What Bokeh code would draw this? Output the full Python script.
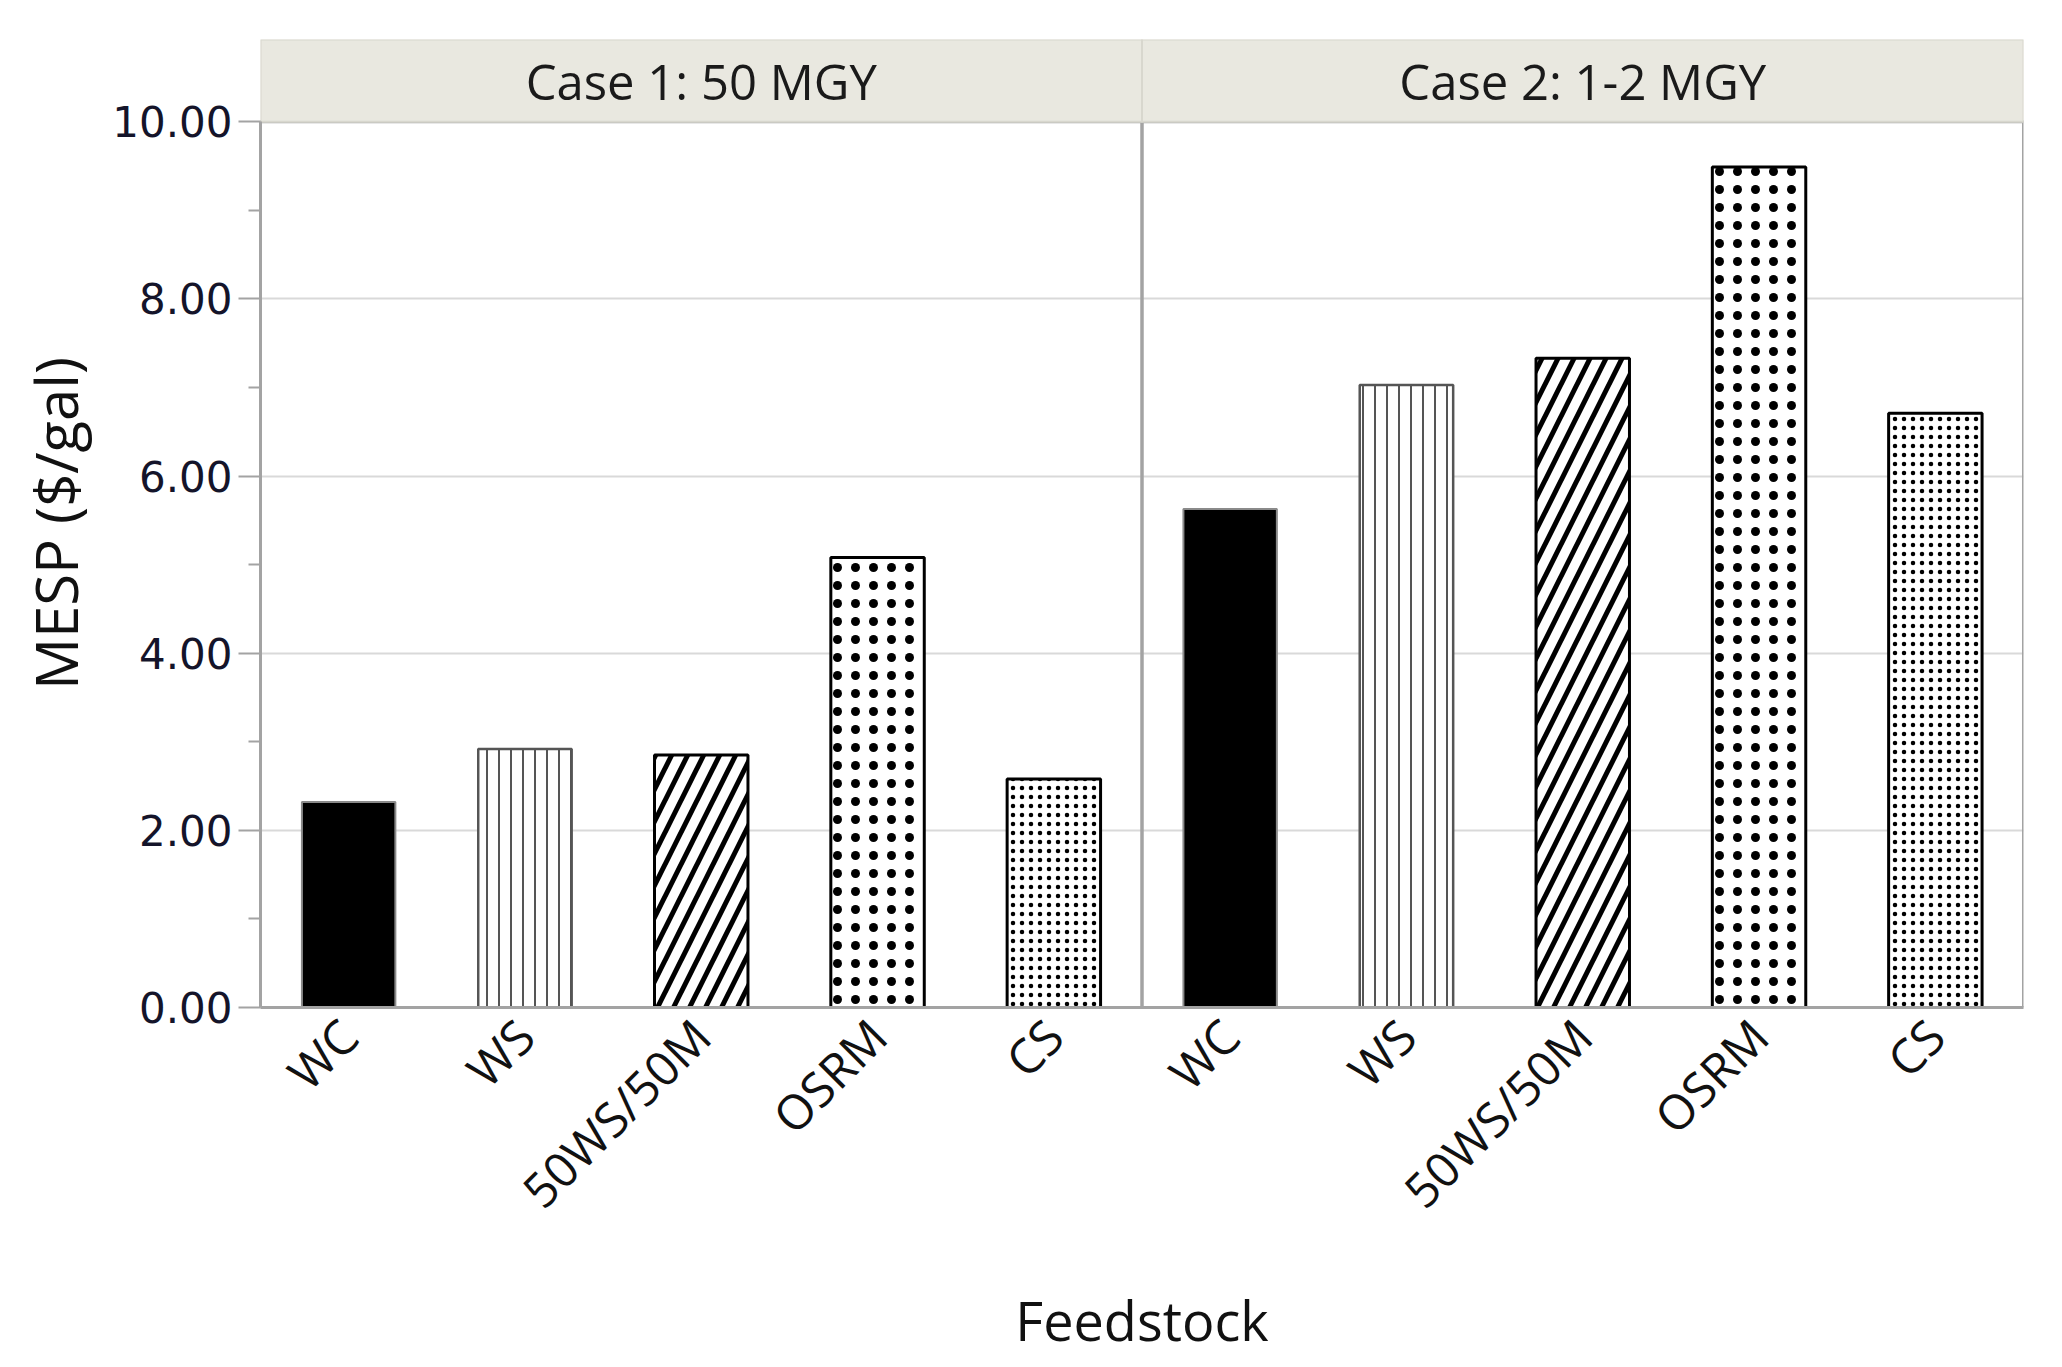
import math
from bokeh.plotting import figure
from bokeh.models import FactorRange, Range1d, FixedTicker, NumeralTickFormatter
from bokeh.core.properties import value
from bokeh.embed import file_html
from bokeh.resources import INLINE

# ---------------- data ----------------
cases = ["Case 1: 50 MGY", "Case 2: 1-2 MGY"]
feedstocks = ["WC", "WS", "50WS/50M", "OSRM", "CS"]
case1_mesp = [2.32, 2.92, 2.85, 5.08, 2.58]
case2_mesp = [5.63, 7.03, 7.33, 9.49, 6.71]
y_ticks = [0, 2, 4, 6, 8, 10]
y_label = "MESP ($/gal)"
x_label = "Feedstock"

# ---------------- styles ----------------
styles = {
    "WC": dict(fill_color="black", line_color="#8a8a8a", line_width=2),
    "WS": dict(fill_color="white", line_color="#555555", line_width=2.5,
               hatch_pattern="vertical_line", hatch_color="#555555",
               hatch_scale=12, hatch_weight=2),
    "50WS/50M": dict(fill_color="white", line_color="black", line_width=3,
                     hatch_pattern="right_diagonal_line", hatch_color="black",
                     hatch_scale=32, hatch_weight=5),
    "OSRM": dict(fill_color="white", line_color="black", line_width=3,
                 hatch_pattern="dot", hatch_color="black",
                 hatch_scale=18, hatch_weight=1),
    "CS": dict(fill_color="white", line_color="black", line_width=3,
               hatch_pattern="dot", hatch_color="black",
               hatch_scale=9, hatch_weight=1),
}

y_max = y_ticks[-1]
header_h = 0.93
header_mid = y_max + header_h / 2

factors = [(c, f) for c in cases for f in feedstocks]

p = figure(
    width=2048, height=1360,
    x_range=FactorRange(*factors, group_padding=0, factor_padding=0, range_padding=0),
    y_range=Range1d(0, y_max + header_h),
    output_backend="svg", toolbar_location=None,
    min_border_left=260, min_border_right=25, min_border_top=39, min_border_bottom=340,
)
p.outline_line_color = None
p.background_fill_color = "white"
p.border_fill_color = "white"

# bars
for i, f in enumerate(feedstocks):
    xs = [(c, f) for c in cases]
    tops = [case1_mesp[i], case2_mesp[i]]
    p.vbar(x=xs, top=tops, bottom=0, width=0.53, **styles[f])

# panel borders
p.rect(x=cases, y=[y_max / 2] * 2, width=len(feedstocks), height=y_max,
       fill_color=None, line_color="#a3a3a3", line_width=3)

# header strips
p.rect(x=cases, y=[header_mid] * 2, width=len(feedstocks), height=header_h,
       fill_color="#e9e8e0", line_color="#d8d7ce", line_width=2)
p.text(x=cases, y=[header_mid] * 2, text=cases,
       text_font=value("Open Sans"), text_font_size="49px", text_color="#1a1a1a",
       text_align="center", text_baseline="middle")

# y axis
minor = [(a + b) / 2 for a, b in zip(y_ticks[:-1], y_ticks[1:])]
p.yaxis.ticker = FixedTicker(ticks=y_ticks, minor_ticks=minor)
p.yaxis.formatter = NumeralTickFormatter(format="0.00")
p.yaxis.bounds = (0, y_max)
p.yaxis.axis_line_color = "#a3a3a3"
p.yaxis.axis_line_width = 3
p.yaxis.major_tick_line_color = "#a3a3a3"
p.yaxis.major_tick_line_width = 2
p.yaxis.major_tick_out = 22
p.yaxis.major_tick_in = 0
p.yaxis.minor_tick_line_color = "#a3a3a3"
p.yaxis.minor_tick_line_width = 2
p.yaxis.minor_tick_out = 12
p.yaxis.minor_tick_in = 0
p.yaxis.major_label_text_font = "DejaVu Sans"
p.yaxis.major_label_text_font_size = "42px"
p.yaxis.major_label_text_color = "#14142a"
p.yaxis.major_label_standoff = 6
p.yaxis.axis_label = y_label
p.yaxis.axis_label_text_font = "Open Sans"
p.yaxis.axis_label_text_font_size = "58px"
p.yaxis.axis_label_text_font_style = "normal"
p.yaxis.axis_label_text_color = "#111111"
p.yaxis.axis_label_standoff = 14

p.ygrid.ticker = FixedTicker(ticks=y_ticks)
p.ygrid.bounds = (0, y_max)
p.ygrid.grid_line_color = "#d9d9d9"
p.ygrid.grid_line_width = 2
p.xgrid.grid_line_color = None

# x axis
p.xaxis.axis_line_color = "#a3a3a3"
p.xaxis.axis_line_width = 3
p.xaxis.major_tick_line_color = None
p.xaxis.minor_tick_line_color = None
p.xaxis.major_label_orientation = math.pi / 4
p.xaxis.major_label_text_font = "Open Sans"
p.xaxis.major_label_text_font_size = "48px"
p.xaxis.major_label_text_color = "#111111"
p.xaxis.major_label_standoff = 14
p.xaxis.group_text_font_size = "0px"
p.xaxis.group_text_color = None
p.xaxis.separator_line_color = None
p.xaxis.axis_label = x_label
p.xaxis.axis_label_text_font = "Open Sans"
p.xaxis.axis_label_text_font_size = "54px"
p.xaxis.axis_label_text_font_style = "normal"
p.xaxis.axis_label_text_color = "#111111"
p.xaxis.axis_label_standoff = 36

open("out.html", "w").write(file_html(p, INLINE))
